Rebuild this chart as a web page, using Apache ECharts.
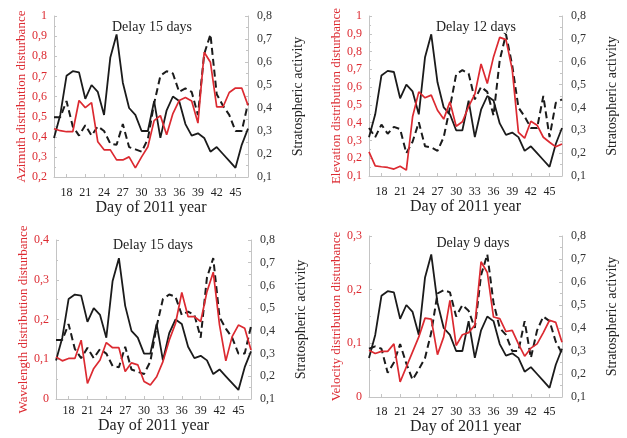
<!DOCTYPE html>
<html>
<head>
<meta charset="utf-8">
<script src="https://cdn.jsdelivr.net/npm/echarts@6/dist/echarts.min.js"></script>
<style>
html,body{margin:0;padding:0;background:#fff;}
#main{width:627px;height:438px;}
</style>
</head>
<body>
<div id="main"></div>
<script>
// days on the x axis
var days = [16,17,18,19,20,21,22,23,24,25,26,27,28,29,30,31,32,33,34,35,36,37,38,39,40,41,42,43,44,45,46,47];

// stratospheric activity (solid black, right axis)
var strat = [0.27,0.37,0.54,0.56,0.555,0.44,0.50,0.47,0.37,0.62,0.72,0.51,0.40,0.37,0.30,0.30,0.43,0.27,0.39,0.45,0.43,0.33,0.28,0.29,0.27,0.21,0.23,0.20,0.17,0.14,0.24,0.31];

// stratospheric activity shifted by delay (dashed black, right axis)
var stratDelay15 = [0.36,0.36,0.43,0.32,0.28,0.325,0.28,0.32,0.30,0.245,0.24,0.33,0.23,0.22,0.21,0.265,0.42,0.54,0.56,0.55,0.47,0.485,0.47,0.37,0.635,0.72,0.46,0.41,0.37,0.30,0.30,0.42];
var stratDelay12 = [0.31,0.27,0.325,0.285,0.315,0.305,0.20,0.25,0.335,0.23,0.225,0.21,0.27,0.40,0.545,0.563,0.548,0.435,0.49,0.468,0.365,0.607,0.72,0.585,0.40,0.36,0.31,0.31,0.45,0.27,0.42,0.435];
var stratDelay9 = [0.31,0.32,0.31,0.205,0.25,0.33,0.245,0.175,0.22,0.27,0.38,0.55,0.565,0.555,0.45,0.50,0.475,0.40,0.63,0.72,0.51,0.40,0.37,0.30,0.30,0.43,0.27,0.39,0.45,0.43,0.34,0.29];

// disturbances (red, left axis)
var azimuth = [0.44,0.43,0.425,0.425,0.58,0.545,0.57,0.375,0.335,0.335,0.285,0.285,0.30,0.245,0.30,0.35,0.48,0.505,0.41,0.515,0.58,0.595,0.578,0.468,0.82,0.77,0.548,0.548,0.62,0.642,0.642,0.556];
var elevation = [0.236,0.157,0.152,0.148,0.139,0.155,0.133,0.433,0.573,0.54,0.555,0.47,0.42,0.517,0.38,0.405,0.49,0.56,0.73,0.62,0.77,0.88,0.867,0.70,0.345,0.313,0.408,0.386,0.318,0.29,0.264,0.28];
var wavelength = [0.106,0.096,0.102,0.102,0.148,0.039,0.077,0.098,0.142,0.129,0.129,0.069,0.091,0.086,0.044,0.035,0.056,0.094,0.148,0.19,0.268,0.207,0.207,0.195,0.27,0.319,0.186,0.096,0.157,0.186,0.178,0.123];
var velocity = [0.087,0.081,0.085,0.085,0.099,0.028,0.056,0.084,0.112,0.147,0.145,0.079,0.112,0.18,0.096,0.116,0.12,0.134,0.252,0.232,0.149,0.146,0.122,0.124,0.099,0.076,0.091,0.099,0.12,0.143,0.139,0.102];

var RED = '#dc2a31', BLK = '#1b1b1b', AX = '#c4c4c4', TXT = '#222';
var FONT = '"Liberation Serif","Times New Roman",serif';

function fmt(v) {
    if (Math.abs(v - Math.round(v)) < 1e-9) return String(Math.round(v));
    return v.toFixed(1).replace('.', ',');
}
function every3(idx, val) {
    var d = Number(val);
    return d >= 18 && (d - 18) % 3 === 0;
}

var panels = [
    {grid:{left:54,top:16,width:194,height:161}, title:'Delay 15 days', tx:147, ty:15, lm:10, ng:22,
     name:'Azimuth distribution disturbance', min:0.2, max:1, red:azimuth, dash:stratDelay15},
    {grid:{left:369,top:16,width:193,height:160}, title:'Delay 12 days', tx:471, ty:15, lm:10, ng:22,
     name:'Elevation distribution disturbance', min:0.1, max:1, red:elevation, dash:stratDelay12},
    {grid:{left:56,top:240,width:195,height:159}, title:'Delay 15 days', tx:148, ty:233, lm:6, ng:19,
     name:'Wavelength distribution disturbance', min:0, max:0.4, red:wavelength, dash:stratDelay15},
    {grid:{left:369,top:236,width:193,height:161}, title:'Delay 9 days', tx:468, ty:231, lm:9, ng:21,
     name:'Velocity distribution disturbance', min:0, max:0.3, red:velocity, dash:stratDelay9}
];

var option = {animation:false, backgroundColor:'#fff', title:[], grid:[], xAxis:[], yAxis:[], series:[]};

panels.forEach(function (p, i) {
    option.grid.push(p.grid);
    option.title.push({
        text: p.title, left: p.tx, top: p.ty, textAlign: 'center',
        textStyle: {fontFamily: FONT, fontSize: 14, fontWeight: 'normal', color: TXT}
    });
    option.xAxis.push({
        type: 'category', gridIndex: i, data: days, boundaryGap: false,
        axisLine: {lineStyle: {color: AX}},
        axisTick: {show: true, inside: true, length: 3, interval: every3, lineStyle: {color: AX}},
        axisLabel: {interval: every3, color: TXT, fontFamily: FONT, fontSize: 12, margin: p.lm},
        name: 'Day of 2011 year', nameLocation: 'middle', nameGap: p.ng,
        nameTextStyle: {fontFamily: FONT, fontSize: 16, color: TXT}
    });
    option.yAxis.push({
        type: 'value', gridIndex: i, position: 'left', min: p.min, max: p.max, interval: 0.1,
        splitLine: {show: false},
        axisLine: {show: true, lineStyle: {color: AX}},
        axisTick: {show: true, inside: true, length: 3, lineStyle: {color: AX}},
        minorTick: {show: true, splitNumber: 2, length: 2, lineStyle: {color: AX}},
        axisLabel: {color: RED, formatter: fmt, fontFamily: FONT, fontSize: 12, margin: 7},
        name: p.name, nameLocation: 'middle', nameRotate: 90, nameGap: 25,
        nameTextStyle: {color: RED, fontFamily: FONT, fontSize: 13}
    });
    option.yAxis.push({
        type: 'value', gridIndex: i, position: 'right', min: 0.1, max: 0.8, interval: 0.1,
        splitLine: {show: false},
        axisLine: {show: true, lineStyle: {color: AX}},
        axisTick: {show: true, inside: true, length: 3, lineStyle: {color: AX}},
        minorTick: {show: true, splitNumber: 2, length: 2, lineStyle: {color: AX}},
        axisLabel: {color: '#333', formatter: fmt, fontFamily: FONT, fontSize: 12, margin: 9},
        name: 'Stratospheric activity', nameLocation: 'middle', nameRotate: 90, nameGap: 43,
        nameTextStyle: {color: TXT, fontFamily: FONT, fontSize: 14}
    });
    option.series.push({
        type: 'line', xAxisIndex: i, yAxisIndex: 2 * i, data: p.red, symbol: 'none', z: 4,
        lineStyle: {color: RED, width: 1.7}
    });
    option.series.push({
        type: 'line', xAxisIndex: i, yAxisIndex: 2 * i + 1, data: strat, symbol: 'none', z: 3,
        lineStyle: {color: BLK, width: 1.8}
    });
    option.series.push({
        type: 'line', xAxisIndex: i, yAxisIndex: 2 * i + 1, data: p.dash, symbol: 'none', z: 3,
        lineStyle: {color: BLK, width: 2, type: [7, 4]}
    });
});

var myChart = echarts.init(document.getElementById('main'));
myChart.setOption(option);
</script>
</body>
</html>
